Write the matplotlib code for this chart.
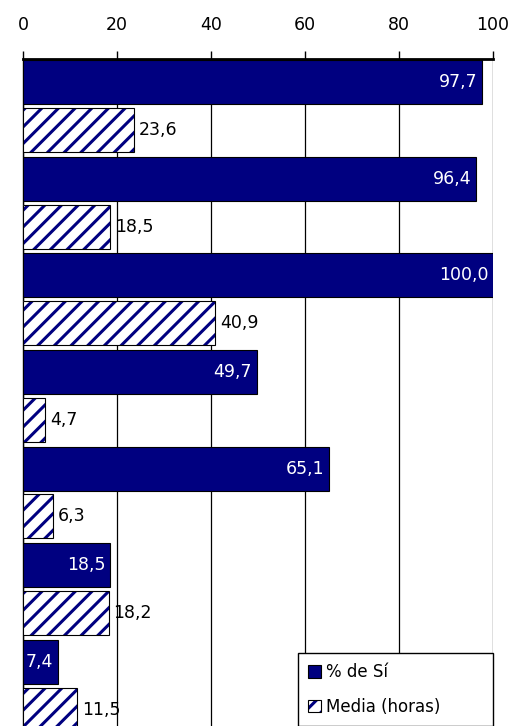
import matplotlib.pyplot as plt
import numpy as np
from matplotlib.patches import Patch

pct_si = [97.7, 96.4, 100.0, 49.7, 65.1, 18.5, 7.4]
media_horas = [23.6, 18.5, 40.9, 4.7, 6.3, 18.2, 11.5]
x_ticks = [0, 20, 40, 60, 80, 100]
legend_labels = ['% de Sí', 'Media (horas)']

NAVY = '#000080'


def fmt(v):
    return f'{v:.1f}'.replace('.', ',')


plt.rcParams['font.family'] = ['DejaVu Sans']
plt.rcParams['hatch.linewidth'] = 2.2

fig = plt.figure(figsize=(5.19, 7.26), dpi=100)
ax = fig.add_axes([23 / 519, 0, 470 / 519, 1 - 59 / 726])

pos = np.arange(len(pct_si))
h = 0.455
y_dark = pos - 0.25
y_hatch = pos + 0.245

ax.barh(y_dark, pct_si, height=h, color=NAVY, edgecolor='black', linewidth=0.8, zorder=3)
ax.barh(y_hatch, media_horas, height=h, color='white', edgecolor=NAVY,
        hatch='//', linewidth=0, zorder=3)
ax.barh(y_hatch, media_horas, height=h, fill=False, edgecolor='black',
        linewidth=0.8, zorder=4)

for y, v in zip(y_dark, pct_si):
    ax.text(v - 1.0, y, fmt(v), color='white', ha='right', va='center',
            fontsize=12.5, zorder=5)
for y, v in zip(y_hatch, media_horas):
    ax.text(v + 1.0, y, fmt(v), color='black', ha='left', va='center',
            fontsize=12.5, zorder=5)

ax.set_xlim(0, 100)
ax.set_ylim(-0.49 + 667 / 96.6, -0.49)
ax.set_xticks(x_ticks)
ax.xaxis.tick_top()
ax.tick_params(axis='x', length=6, width=1, pad=12, labelsize=12.5, direction='out')
ax.set_yticks([])
ax.grid(axis='x', color='black', linewidth=0.9, zorder=0)

ax.spines['top'].set_linewidth(2)
ax.spines['left'].set_linewidth(1)
ax.spines['right'].set_visible(False)
ax.spines['bottom'].set_visible(False)

dark_patch = Patch(facecolor=NAVY, edgecolor='black', linewidth=0.8)
hatch_patch = Patch(facecolor='white', edgecolor=NAVY, hatch='//', linewidth=0)
border_patch = Patch(fill=False, edgecolor='black', linewidth=0.8)
leg = ax.legend([dark_patch, (hatch_patch, border_patch)], legend_labels,
                loc='upper left',
                bbox_to_anchor=(298 / 519, 0, 195 / 519, 1 - 653 / 726),
                bbox_transform=fig.transFigure, mode='expand',
                fontsize=12, frameon=True, fancybox=False, framealpha=1,
                handlelength=0.8, handleheight=0.8, handletextpad=0.3,
                labelspacing=1.0, borderpad=0.6, borderaxespad=0)
leg.get_frame().set_edgecolor('black')
leg.get_frame().set_linewidth(1)
leg.set_zorder(10)

fig.savefig('out.png', dpi=100)
